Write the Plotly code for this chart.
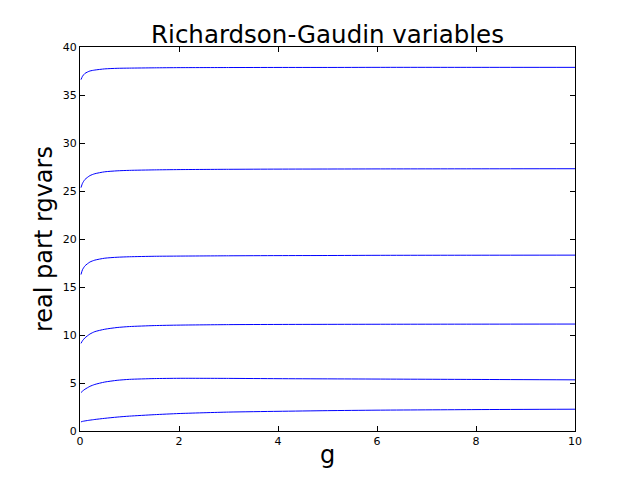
"""
Richardson-Gaudin variables vs coupling g
"""
import plotly.graph_objects as go

# coupling values where the curves were sampled
g = [0.02, 0.05, 0.1, 0.2, 0.3, 0.5, 0.75, 1.0, 1.5, 2.0, 3.0, 4.0, 5.0, 6.0, 8.0, 10.0]

# real part of each Richardson-Gaudin variable
rg1 = [0.95, 1.00, 1.05, 1.13, 1.20, 1.32, 1.45, 1.55, 1.70, 1.82, 1.97, 2.05, 2.12, 2.17, 2.23, 2.27]
rg2 = [4.00, 4.15, 4.35, 4.65, 4.85, 5.10, 5.28, 5.38, 5.46, 5.49, 5.48, 5.45, 5.43, 5.41, 5.37, 5.33]
rg3 = [9.13, 9.40, 9.70, 10.10, 10.35, 10.60, 10.78, 10.88, 10.98, 11.03, 11.08, 11.10, 11.11, 11.12, 11.13, 11.14]
rg4 = [16.30, 16.80, 17.20, 17.60, 17.80, 18.00, 18.10, 18.15, 18.20, 18.22, 18.25, 18.27, 18.28, 18.30, 18.31, 18.32]
rg5 = [25.35, 25.80, 26.20, 26.60, 26.80, 27.00, 27.10, 27.15, 27.20, 27.23, 27.26, 27.28, 27.29, 27.30, 27.31, 27.32]
rg6 = [36.60, 36.95, 37.25, 37.50, 37.60, 37.72, 37.78, 37.80, 37.83, 37.85, 37.86, 37.87, 37.87, 37.88, 37.88, 37.88]

x_ticks = [0, 2, 4, 6, 8, 10]
y_ticks = [0, 5, 10, 15, 20, 25, 30, 35, 40]

# the page body adds an 8px margin, so the figure is drawn 8px smaller
W, H = 632, 472

fig = go.Figure()
for series in [rg1, rg2, rg3, rg4, rg5, rg6]:
    fig.add_trace(go.Scatter(
        x=g,
        y=series,
        mode='lines',
        line=dict(color='#0000ff', width=1, shape='spline', smoothing=0.6),
        showlegend=False
    ))

axis_style = dict(
    showline=True,
    linecolor='black',
    linewidth=1,
    mirror='ticks',
    ticks='inside',
    ticklen=5,
    tickcolor='black',
    showgrid=False,
    zeroline=False,
    tickfont=dict(family='DejaVu Sans', size=11, color='black'),
)

fig.update_layout(
    width=W,
    height=H,
    paper_bgcolor='white',
    plot_bgcolor='white',
    font=dict(family='DejaVu Sans', color='black'),
    title=dict(
        text='Richardson-Gaudin variables',
        font=dict(size=24.5, color='black'),
        x=0.5, xanchor='center',
        xref='paper',
        y=1 - 26 / H, yanchor='middle',
    ),
    margin=dict(l=72, r=65, t=39, b=49),
    xaxis=dict(range=[0, 10], tickvals=x_ticks, **axis_style),
    yaxis=dict(range=[0, 40], tickvals=y_ticks, **axis_style),
    annotations=[
        dict(text='g', xref='paper', yref='paper', x=0.5, y=0,
             xanchor='center', yanchor='middle', yshift=-24,
             showarrow=False, font=dict(size=24)),
        dict(text='real part rgvars', xref='paper', yref='paper', x=0, y=0.5,
             xanchor='center', yanchor='middle', xshift=-36, textangle=-90,
             showarrow=False, font=dict(size=24)),
    ],
)

fig.write_html('out.html')
